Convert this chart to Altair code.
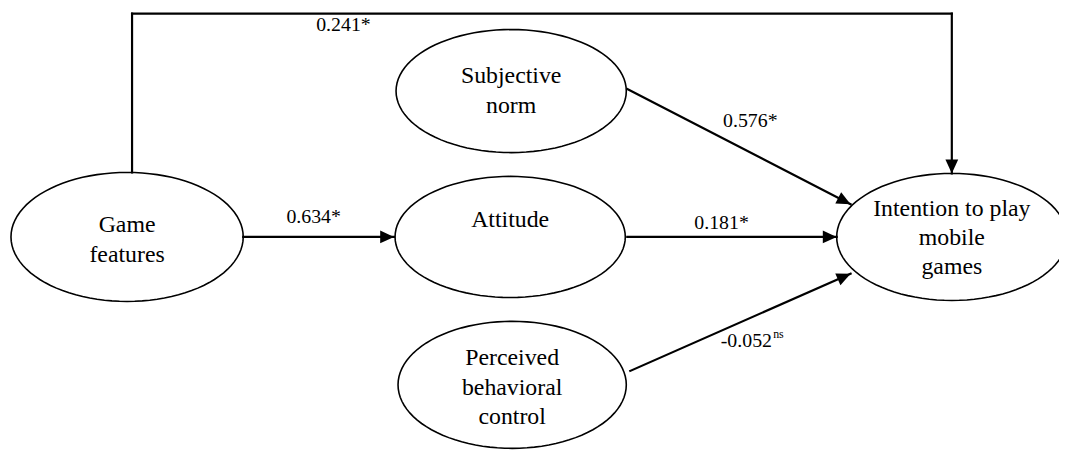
import math
import pandas as pd
import altair as alt

# ---- nodes (diagram coordinates, y downward) ----
node_names = ["Game features", "Subjective norm", "Attitude",
              "Perceived behavioral control", "Intention to play mobile games"]
node_lines = [["Game", "features"], ["Subjective", "norm"], ["Attitude"],
              ["Perceived", "behavioral", "control"],
              ["Intention to play", "mobile", "games"]]
node_x = [128, 515, 514, 516, 959]
node_y = [237, 90, 237, 386, 237]
node_rx = [117, 116, 116, 115, 116]
node_ry = [65, 62, 61, 64, 64]
node_label_y = [240, 90, 220, 389, 238]

# ---- path segments ----
seg_x1 = [245, 632, 632, 635, 133, 133, 959]
seg_y1 = [237, 237, 88, 372, 172, 12, 12]
seg_x2 = [397, 843, 857, 857, 133, 959, 959]
seg_y2 = [237, 237, 204, 274, 12, 12, 173]
seg_arrow = [True, True, True, True, False, False, True]

# ---- path coefficients ----
coef_text = ["0.241*", "0.634*", "0.576*", "0.181*", "-0.052"]
coef_x = [346, 316, 756, 727, 752]
coef_y = [23, 217, 120, 223, 342]
sup_text = ["ns"]
sup_x = [779]
sup_y = [335]

W, H = 1059, 444
X0, Y0 = 8, 8
FONT = "Liberation Serif"

def ellipse_path(ratio, n=96):
    pts = []
    for i in range(n):
        t = 2 * math.pi * i / n
        pts.append(f"{math.cos(t):.4f},{ratio * math.sin(t):.4f}")
    return "M" + "L".join(pts) + "Z"

nodes = pd.DataFrame({
    "name": node_names,
    "x": node_x,
    "y": node_y,
    "shape": [ellipse_path(ry / rx) for rx, ry in zip(node_rx, node_ry)],
    "size": [(2 * rx) ** 2 for rx in node_rx],
})

rows = []
LH = 29.5
for name, lines, x, ly in zip(node_names, node_lines, node_x, node_label_y):
    n = len(lines)
    for i, t in enumerate(lines):
        rows.append({"name": name, "text": t, "x": x, "y": ly + (i - (n - 1) / 2) * LH})
node_text = pd.DataFrame(rows)

segs = pd.DataFrame({"x": seg_x1, "y": seg_y1, "x2": seg_x2, "y2": seg_y2,
                     "arrow": seg_arrow})
heads = segs[segs["arrow"]].copy()
heads["angle"] = [
    (math.degrees(math.atan2(x2 - x1, -(y2 - y1))) + 360) % 360
    for x1, y1, x2, y2 in zip(heads["x"], heads["y"], heads["x2"], heads["y2"])
]

coefs = pd.DataFrame({"text": coef_text, "x": coef_x, "y": coef_y})
sups = pd.DataFrame({"text": sup_text, "x": sup_x, "y": sup_y})

xs = alt.Scale(domain=[X0, X0 + W], nice=False, zero=False)
ys = alt.Scale(domain=[Y0, Y0 + H], nice=False, zero=False, reverse=True)
X = lambda f="x": alt.X(f"{f}:Q", scale=xs, axis=None)
Y = lambda f="y": alt.Y(f"{f}:Q", scale=ys, axis=None)

lines_layer = alt.Chart(segs).mark_rule(color="black", strokeWidth=2.2, strokeCap="square").encode(
    x=X(), y=Y(), x2="x2:Q", y2="y2:Q")

heads_layer = alt.Chart(heads).mark_point(
    filled=True, color="black", opacity=1, strokeWidth=0).encode(
    x=alt.X("x2:Q", scale=xs, axis=None), y=alt.Y("y2:Q", scale=ys, axis=None),
    angle=alt.Angle("angle:Q", scale=None),
    shape=alt.value("M0,0L-0.46,1L0.46,1Z"),
    size=alt.value(784))

ell_layer = alt.Chart(nodes).mark_point(
    filled=False, color="black", strokeWidth=1.6, opacity=1).encode(
    x=X(), y=Y(),
    shape=alt.Shape("shape:N", scale=None),
    size=alt.Size("size:Q", scale=None))

ntext = alt.Chart(node_text).mark_text(
    font=FONT, fontSize=24, color="black", baseline="middle", align="center").encode(
    x=X(), y=Y(), text="text:N")

ctext = alt.Chart(coefs).mark_text(
    font=FONT, fontSize=20, color="black", baseline="middle", align="center").encode(
    x=X(), y=Y(), text="text:N")

stext = alt.Chart(sups).mark_text(
    font=FONT, fontSize=12, color="black", baseline="middle", align="left").encode(
    x=X(), y=Y(), text="text:N")

chart = alt.layer(lines_layer, heads_layer, ell_layer, ntext, ctext, stext).properties(
    width=W, height=H, padding=0,
    autosize=alt.AutoSizeParams(type="none"),
    background="white",
).configure_view(stroke=None)

chart.save("out.html", embed_options={"renderer": "svg", "actions": False})
